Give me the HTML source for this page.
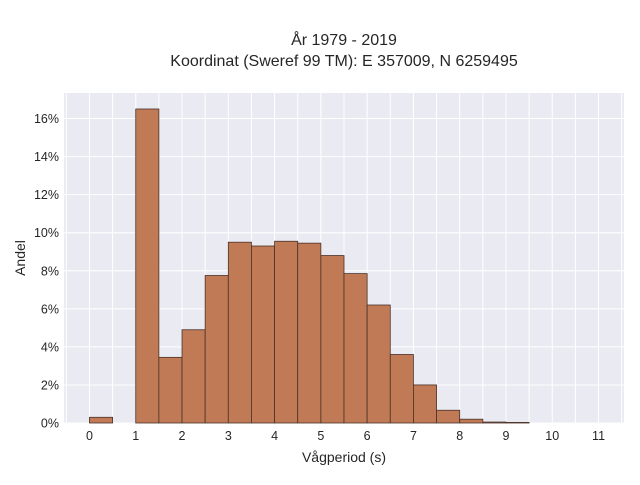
<!DOCTYPE html>
<html><head><meta charset="utf-8"><style>
body{margin:0;background:#fff;font-family:"Liberation Sans",sans-serif;}
svg text{font-family:"Liberation Sans",sans-serif;fill:#262626;}
</style></head><body>
<svg id="chart" width="640" height="480" xmlns="http://www.w3.org/2000/svg">
<text x="344" y="45" font-size="16" text-anchor="middle">År 1979 - 2019</text>
<text x="344" y="66" font-size="16" text-anchor="middle">Koordinat (Sweref 99 TM): E 357009, N 6259495</text>
<rect x="64" y="93" width="560" height="330" fill="#eaeaf2"/>
<g id="grid"></g>
<g id="bars"></g>
<g id="ticks"></g>
<text x="344" y="462" font-size="14" text-anchor="middle">Vågperiod (s)</text>
<text x="0" y="0" font-size="14" text-anchor="middle" transform="translate(25,258) rotate(-90)">Andel</text>
</svg>
<script>
const binStarts=[0,0.5,1,1.5,2,2.5,3,3.5,4,4.5,5,5.5,6,6.5,7,7.5,8,8.5,9];
const binValues=[0.3,0,16.5,3.45,4.9,7.75,9.5,9.3,9.55,9.45,8.8,7.85,6.2,3.6,2.0,0.67,0.2,0.05,0.03];
const xTicks=[0,1,2,3,4,5,6,7,8,9,10,11];
const yTicks=[0,2,4,6,8,10,12,14,16];
const binWidth=0.5;
const ns="http://www.w3.org/2000/svg";
const L=64,R=624,T=93,B=423;
const xmin=-0.55,xmax=11.55,ymax=17.34;
const X=v=>L+(v-xmin)/(xmax-xmin)*(R-L);
const Y=v=>B-v/ymax*(B-T);
function mk(t,a,p){const e=document.createElementNS(ns,t);for(const k in a)e.setAttribute(k,a[k]);p.appendChild(e);return e;}
const grid=document.getElementById('grid'),bars=document.getElementById('bars'),ticks=document.getElementById('ticks');
for(let v=-0.5;v<=11.5;v+=0.5){const l=mk('line',{x1:X(v),x2:X(v),y1:T,y2:B,stroke:'#fff','stroke-width':1},grid);

}
yTicks.forEach(v=>{const l=mk('line',{x1:L,x2:R,y1:Y(v),y2:Y(v),stroke:'#fff','stroke-width':1},grid);


const t=mk('text',{x:L-5,y:Y(v)+4.5,'font-size':12.5,'text-anchor':'end'},ticks);t.textContent=v+'%';

});
xTicks.forEach(v=>{const t=mk('text',{x:X(v),y:B+17,'font-size':12.5,'text-anchor':'middle'},ticks);t.textContent=v;

});
binStarts.forEach((s,i)=>{const v=binValues[i];if(v<=0)return;
const r=mk('rect',{x:X(s),y:Y(v),width:X(s+binWidth)-X(s),height:B-Y(v),fill:'#c17a56',stroke:'#4a3228','stroke-width':0.8},bars);

});
</script>
</body></html>
